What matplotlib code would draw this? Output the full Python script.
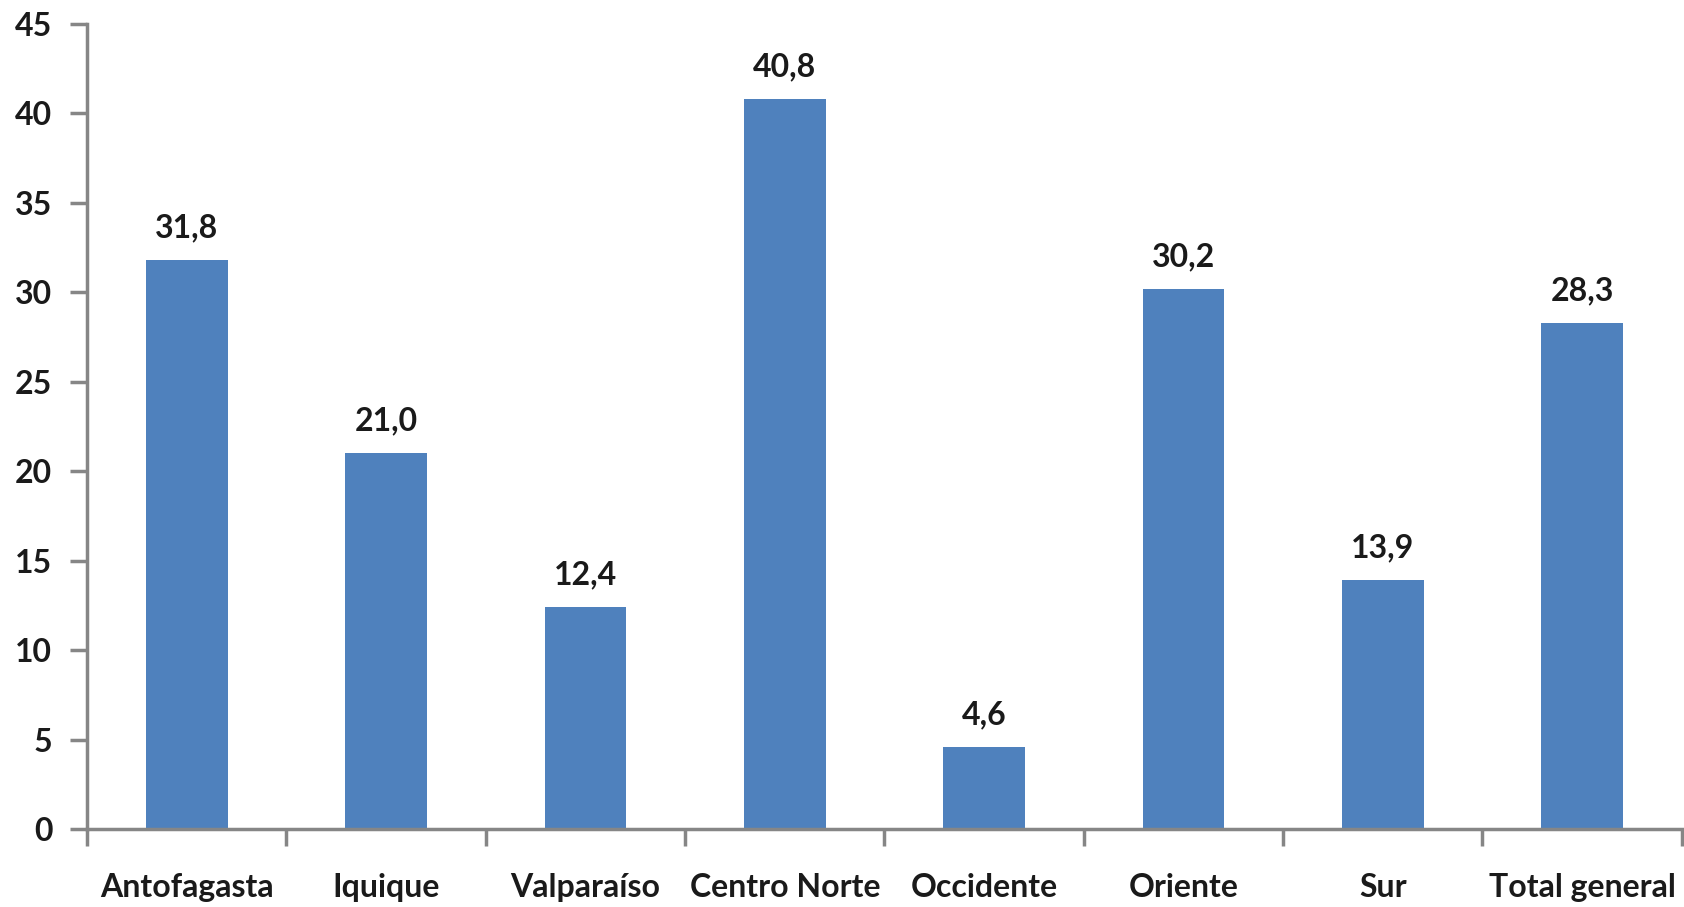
import matplotlib
matplotlib.use('Agg')
import matplotlib.pyplot as plt
import numpy as np

categories = ['Antofagasta', 'Iquique', 'Valparaíso', 'Centro Norte',
              'Occidente', 'Oriente', 'Sur', 'Total general']
values = [31.8, 21.0, 12.4, 40.8, 4.6, 30.2, 13.9, 28.3]
yticks = [0, 5, 10, 15, 20, 25, 30, 35, 40, 45]

plt.rcParams['font.family'] = ['Lato', 'DejaVu Sans']

fig = plt.figure(figsize=(16.84, 9.07), dpi=100)
ax = fig.add_axes([0.0517, 0.086, 0.947, 0.8875])

x = np.arange(len(categories))
bars = ax.bar(x, values, width=0.41, color='#4F81BD')

for xi, v in zip(x, values):
    ax.text(xi, v + 1.0, f'{v:.1f}'.replace('.', ','), ha='center', va='bottom',
            fontsize=23, fontweight='bold', color='#1a1a1a')

ax.set_xlim(-0.5, len(categories) - 0.5)
ax.set_ylim(0, 45)
ax.set_yticks(yticks)
ax.set_yticklabels([str(t) for t in yticks], fontsize=23, fontweight='bold', color='#1a1a1a')

ax.set_xticks(x)
ax.set_xticklabels(categories, fontsize=23, fontweight='bold', color='#1a1a1a')
ax.tick_params(axis='x', length=0, pad=32)
ax.set_xticks(np.arange(len(categories) + 1) - 0.5, minor=True)
ax.tick_params(axis='x', which='minor', length=12, width=2.5, color='#868686')
ax.tick_params(axis='y', length=12, width=2.5, color='#868686', pad=13)

for s in ['top', 'right']:
    ax.spines[s].set_visible(False)
for s in ['left', 'bottom']:
    ax.spines[s].set_color('#868686')
    ax.spines[s].set_linewidth(2.5)

fig.savefig('out.png', dpi=100)
